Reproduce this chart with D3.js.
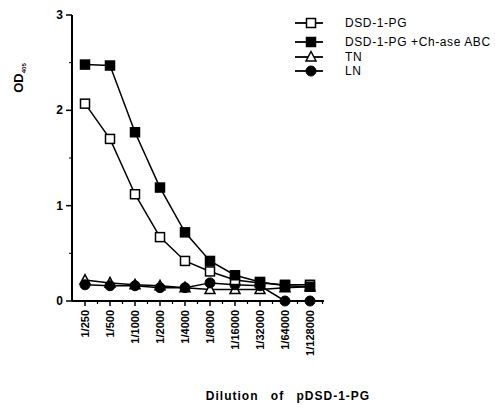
<!DOCTYPE html>
<html>
<head>
<meta charset="utf-8">
<script src="https://cdn.jsdelivr.net/npm/d3@7"></script>
<style>
  body { margin: 0; background: #fff; }
  text { font-family: "Liberation Sans", Arial, sans-serif; fill: #000; }
</style>
</head>
<body>
<svg id="chart" width="495" height="415"></svg>
<script>
// dilutions on the x axis
var dilutions = ["1/250", "1/500", "1/1000", "1/2000", "1/4000", "1/8000", "1/16000", "1/32000", "1/64000", "1/128000"];

// OD405 readings per series
var dsdValues   = [2.07, 1.70, 1.12, 0.67, 0.42, 0.31, 0.22, 0.19, 0.17, 0.17];
var chaseValues = [2.48, 2.47, 1.77, 1.19, 0.72, 0.42, 0.27, 0.20, 0.16, 0.15];
var tnValues    = [0.22, 0.19, 0.17, 0.16, 0.14, 0.12, 0.12, 0.12, 0.14, 0.15];
var lnValues    = [0.17, 0.16, 0.16, 0.14, 0.14, 0.19, 0.17, 0.16, 0.00, 0.00];

var yTicks = [0, 1, 2, 3];

var series = [
    { name: "DSD-1-PG", values: dsdValues, shape: "square", fill: "#fff" },
    { name: "DSD-1-PG +Ch-ase ABC", values: chaseValues, shape: "square", fill: "#000" },
    { name: "TN", values: tnValues, shape: "triangle", fill: "#fff" },
    { name: "LN", values: lnValues, shape: "circle", fill: "#000" }
];

var svg = d3.select("#chart");

var x = d3.scalePoint().domain(dilutions).range([85, 310]);
var y = d3.scaleLinear().domain([0, 3]).range([301, 15]);

// x axis with half-step minor ticks
var xg = svg.append("g");
xg.append("line")
    .attr("x1", 72).attr("x2", 324)
    .attr("y1", y(0)).attr("y2", y(0))
    .attr("stroke", "#000").attr("stroke-width", 2);
var step = x.step();
var minor = d3.range(0, dilutions.length).map(function (i) { return x(dilutions[i]) + step / 2; });
xg.selectAll(".maj").data(dilutions).enter().append("line")
    .attr("x1", function (d) { return x(d); }).attr("x2", function (d) { return x(d); })
    .attr("y1", y(0)).attr("y2", y(0) + 5)
    .attr("stroke", "#000").attr("stroke-width", 1.5);
xg.selectAll(".min").data(minor).enter().append("line")
    .attr("x1", function (d) { return d; }).attr("x2", function (d) { return d; })
    .attr("y1", y(0)).attr("y2", y(0) + 3)
    .attr("stroke", "#000").attr("stroke-width", 1.2);
xg.selectAll(".xl").data(dilutions).enter().append("text")
    .attr("transform", function (d) { return "translate(" + (x(d) + 4) + "," + (y(0) + 9) + ") rotate(-90)"; })
    .attr("text-anchor", "end")
    .style("font-size", "11px").style("font-weight", "bold")
    .text(function (d) { return d; });

// y axis
var yg = svg.append("g");
yg.append("line")
    .attr("x1", 72).attr("x2", 72)
    .attr("y1", y(3)).attr("y2", y(0))
    .attr("stroke", "#000").attr("stroke-width", 2);
yg.selectAll(".yt").data(yTicks).enter().append("line")
    .attr("x1", 66).attr("x2", 72)
    .attr("y1", function (d) { return y(d); }).attr("y2", function (d) { return y(d); })
    .attr("stroke", "#000").attr("stroke-width", 1.5);
yg.selectAll(".ym").data([0.5, 1.5, 2.5]).enter().append("line")
    .attr("x1", 69).attr("x2", 72)
    .attr("y1", function (d) { return y(d); }).attr("y2", function (d) { return y(d); })
    .attr("stroke", "#000").attr("stroke-width", 1);
yg.selectAll(".yl").data(yTicks).enter().append("text")
    .attr("x", 63).attr("y", function (d) { return y(d) + 4; })
    .attr("text-anchor", "end")
    .style("font-size", "12px").style("font-weight", "bold")
    .text(function (d) { return d; });

// axis titles
var yt = svg.append("text")
    .attr("transform", "translate(23,78) rotate(-90)")
    .attr("text-anchor", "middle")
    .style("font-size", "13px").style("font-weight", "bold");
yt.append("tspan").text("OD");
yt.append("tspan").attr("dy", 3).style("font-size", "6px").text("405");

svg.append("text")
    .attr("x", 288).attr("y", 400)
    .attr("text-anchor", "middle")
    .style("font-size", "12px").style("font-weight", "bold")
    .style("letter-spacing", "1px").style("word-spacing", "8px")
    .text("Dilution of pDSD-1-PG");

function drawMarker(g, shape, fill, cx, cy) {
    if (shape === "square") {
        g.append("rect").attr("x", cx - 4.5).attr("y", cy - 4.5)
            .attr("width", 9).attr("height", 9)
            .attr("fill", fill).attr("stroke", "#000").attr("stroke-width", 1.5);
    } else if (shape === "triangle") {
        g.append("path")
            .attr("d", "M" + cx + "," + (cy - 5.5) + "L" + (cx + 5) + "," + (cy + 4) + "L" + (cx - 5) + "," + (cy + 4) + "Z")
            .attr("fill", fill).attr("stroke", "#000").attr("stroke-width", 1.5);
    } else {
        g.append("circle").attr("cx", cx).attr("cy", cy).attr("r", 5)
            .attr("fill", fill).attr("stroke", "#000").attr("stroke-width", 1);
    }
}

var line = d3.line()
    .x(function (d, i) { return x(dilutions[i]); })
    .y(function (d) { return y(d); });

// draw back-to-front: flat series first
[series[2], series[3], series[0], series[1]].forEach(function (s) {
    var g = svg.append("g");
    g.append("path").datum(s.values)
        .attr("d", line)
        .attr("fill", "none").attr("stroke", "#000").attr("stroke-width", 1.5);
    s.values.forEach(function (v, i) {
        drawMarker(g, s.shape, s.fill, x(dilutions[i]), y(v));
    });
});

// legend
var legendY = [23, 42, 57, 71];
series.forEach(function (s, i) {
    var g = svg.append("g");
    g.append("line").attr("x1", 295).attr("x2", 323)
        .attr("y1", legendY[i]).attr("y2", legendY[i])
        .attr("stroke", "#000").attr("stroke-width", 1.8);
    drawMarker(g, s.shape, s.fill, 311, legendY[i]);
    g.append("text").attr("x", 345).attr("y", legendY[i] + 4)
        .style("font-size", "12px").style("letter-spacing", "0.6px")
        .text(s.name);
});
</script>
</body>
</html>
